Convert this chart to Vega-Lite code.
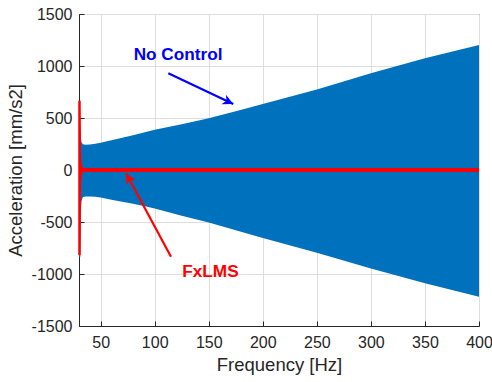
{
  "$schema": "https://vega.github.io/schema/vega-lite/v6.json",
  "width": 400,
  "height": 312,
  "autosize": {"type": "none"},
  "padding": {"left": 79, "top": 14, "right": 13, "bottom": 56},
  "background": "white",
  "view": {"stroke": "#262626", "strokeWidth": 1},
  "config": {
    "font": "Liberation Sans",
    "axis": {
      "domainColor": "#262626",
      "tickColor": "#262626",
      "labelColor": "#262626",
      "titleColor": "#262626",
      "labelFont": "Liberation Sans",
      "titleFont": "Liberation Sans",
      "labelFontSize": 16,
      "titleFontSize": 18.5,
      "titleFontWeight": "normal",
      "gridColor": "#dedede",
      "gridWidth": 1,
      "tickSize": -5,
      "domainWidth": 1,
      "labelFlush": false,
      "labelOverlap": false,
      "labelExpr": "'' + datum.value"
    }
  },
  "datasets": {
    "blue": [
      {"f": 30, "lo": -840, "hi": 420},
      {"f": 31.2, "lo": -840, "hi": 420},
      {"f": 31.6, "lo": -420, "hi": 330},
      {"f": 32.3, "lo": -300, "hi": 270},
      {"f": 33.5, "lo": -262, "hi": 248},
      {"f": 36, "lo": -255, "hi": 242},
      {"f": 40, "lo": -255, "hi": 245},
      {"f": 45, "lo": -258, "hi": 252},
      {"f": 50, "lo": -265, "hi": 262},
      {"f": 60, "lo": -285, "hi": 285},
      {"f": 70, "lo": -305, "hi": 310},
      {"f": 80, "lo": -325, "hi": 335},
      {"f": 90, "lo": -347, "hi": 360},
      {"f": 100, "lo": -369, "hi": 387},
      {"f": 125, "lo": -440, "hi": 440},
      {"f": 150, "lo": -505, "hi": 497},
      {"f": 175, "lo": -580, "hi": 565},
      {"f": 200, "lo": -655, "hi": 635},
      {"f": 250, "lo": -795, "hi": 775},
      {"f": 300, "lo": -946, "hi": 930},
      {"f": 350, "lo": -1090, "hi": 1074},
      {"f": 400, "lo": -1218, "hi": 1202}
    ],
    "red": [
      {"f": 29.3, "lo": -820, "hi": 665},
      {"f": 31.6, "lo": -820, "hi": 665},
      {"f": 31.9, "lo": -120, "hi": 120},
      {"f": 32.7, "lo": -40, "hi": 40},
      {"f": 34, "lo": -20, "hi": 20},
      {"f": 400, "lo": -20, "hi": 20}
    ],
    "notes": [
      {"label": "No Control", "tx": 121.6, "ty": 1106, "x0": 112.6, "y0": 930, "x1": 172.7, "y1": 635},
      {"label": "FxLMS", "tx": 151.6, "ty": -976, "x0": 115.1, "y0": -834, "x1": 73.5, "y1": -32}
    ]
  },
  "layer": [
    {
      "data": {"name": "blue"},
      "mark": {"type": "area", "color": "#0072BD", "opacity": 1},
      "encoding": {
        "x": {
          "field": "f", "type": "quantitative",
          "scale": {"domain": [30, 400], "nice": false, "zero": false},
          "axis": {"title": "Frequency [Hz]", "values": [50, 100, 150, 200, 250, 300, 350, 400], "grid": true, "labelPadding": 13, "titlePadding": 5}
        },
        "y": {
          "field": "hi", "type": "quantitative",
          "scale": {"domain": [-1500, 1500], "nice": false},
          "axis": {"title": "Acceleration [mm/s2]", "values": [-1500, -1000, -500, 0, 500, 1000, 1500], "grid": true, "labelPadding": 12, "titlePadding": 6}
        },
        "y2": {"field": "lo"}
      }
    },
    {
      "data": {"name": "red"},
      "mark": {"type": "area", "color": "#FF0000", "opacity": 1},
      "encoding": {
        "x": {"field": "f", "type": "quantitative"},
        "y": {"field": "hi", "type": "quantitative"},
        "y2": {"field": "lo"}
      }
    },
    {
      "data": {"name": "notes"},
      "mark": {"type": "rule", "strokeWidth": 2.2},
      "encoding": {
        "x": {"field": "x0", "type": "quantitative"},
        "y": {"field": "y0", "type": "quantitative"},
        "x2": {"field": "x1"},
        "y2": {"field": "y1"},
        "color": {"field": "label", "type": "nominal", "scale": {"domain": ["No Control", "FxLMS"], "range": ["#0000FF", "#FF0000"]}, "legend": null}
      }
    },
    {
      "data": {"name": "notes"},
      "transform": [{"filter": "datum.label === 'No Control'"}],
      "mark": {"type": "point", "filled": true, "opacity": 1, "size": 450, "angle": 25.3, "shape": "M0,0 L-1,-0.5 L-0.7,0 L-1,0.5 Z", "color": "#0000FF", "strokeWidth": 0},
      "encoding": {
        "x": {"field": "x1", "type": "quantitative"},
        "y": {"field": "y1", "type": "quantitative"}
      }
    },
    {
      "data": {"name": "notes"},
      "transform": [{"filter": "datum.label === 'FxLMS'"}],
      "mark": {"type": "point", "filled": true, "opacity": 1, "size": 450, "angle": 241.6, "shape": "M0,0 L-1,-0.5 L-0.7,0 L-1,0.5 Z", "color": "#FF0000", "strokeWidth": 0},
      "encoding": {
        "x": {"field": "x1", "type": "quantitative"},
        "y": {"field": "y1", "type": "quantitative"}
      }
    },
    {
      "data": {"name": "notes"},
      "mark": {"type": "text", "fontWeight": "bold", "fontSize": 17.2, "font": "Liberation Sans", "align": "center", "baseline": "middle"},
      "encoding": {
        "x": {"field": "tx", "type": "quantitative"},
        "y": {"field": "ty", "type": "quantitative"},
        "text": {"field": "label"},
        "color": {"field": "label", "type": "nominal", "scale": {"domain": ["No Control", "FxLMS"], "range": ["#0000FF", "#FF0000"]}, "legend": null}
      }
    }
  ]
}
